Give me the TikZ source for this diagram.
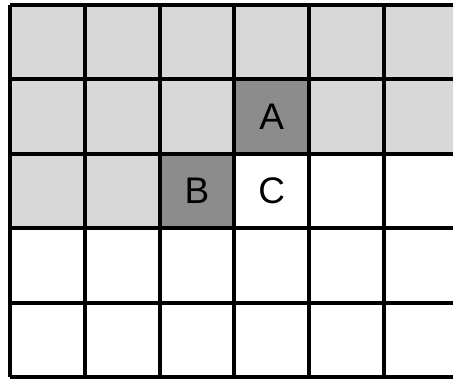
\documentclass[tikz,border=0pt]{standalone}
\usepackage{fontspec}
\setmainfont{Liberation Sans}
\definecolor{cellgray}{RGB}{216,216,216}
\definecolor{markgray}{RGB}{140,140,140}

\begin{document}
\begin{tikzpicture}[x=74.8pt, y=74.5pt]

% Styles
\tikzset{
  gridline/.style={line width=4pt, black, xstep=74.8pt, ystep=74.5pt},
  cell/.style={font=\fontsize{37}{37}\selectfont, inner sep=0pt}
}

% Frame of the picture
\useasboundingbox (-0.1337,-0.0201) rectangle (5.9225,5.0671);

% Shaded cells
\fill[cellgray] (0,3) rectangle (6.5,5);
\fill[cellgray] (0,2) rectangle (2,3);
\fill[markgray] (3,3) rectangle (4,4); % A
\fill[markgray] (2,2) rectangle (3,3); % B

% Grid (right side runs off the page)
\draw[gridline] (0,0) grid (6.5,5);
\draw[gridline] (0,0) -- (6.5,0);

% Labels
\node[cell] (A) at (3.5,3.5) {A};
\node[cell] (B) at (2.5,2.5) {B};
\node[cell] (C) at (3.5,2.5) {C};

\end{tikzpicture}
\end{document}
